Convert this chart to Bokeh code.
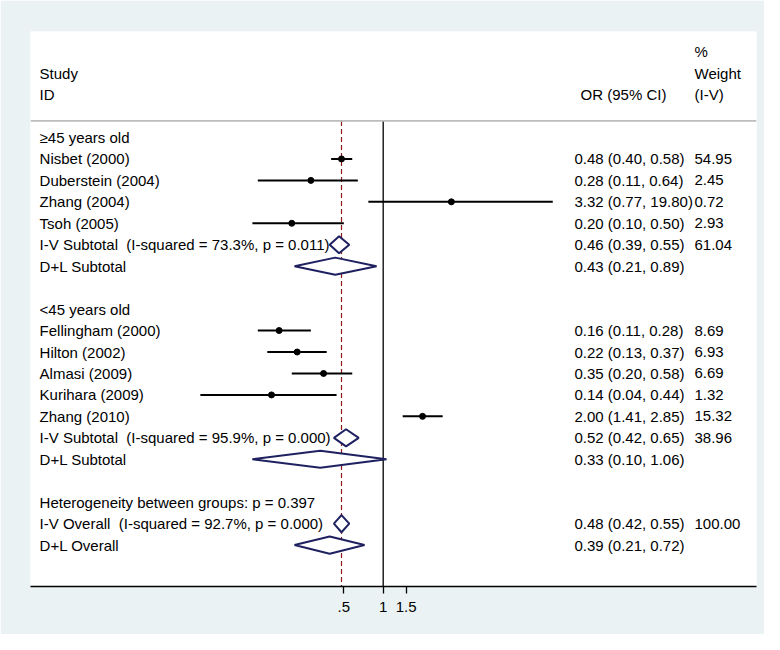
import math
from bokeh.plotting import figure
from bokeh.models import Range1d, FixedTicker, CustomJSTickFormatter, ColumnDataSource, Span
from bokeh.core.properties import value
from bokeh.embed import file_html
from bokeh.resources import INLINE

# ---------------- data ----------------
study_names = ["Nisbet (2000)", "Duberstein (2004)", "Zhang (2004)", "Tsoh (2005)",
               "Fellingham (2000)", "Hilton (2002)", "Almasi (2009)", "Kurihara (2009)", "Zhang (2010)"]
study_or = [0.48, 0.28, 3.32, 0.20, 0.16, 0.22, 0.35, 0.14, 2.00]
study_lo = [0.40, 0.11, 0.77, 0.10, 0.11, 0.13, 0.20, 0.04, 1.41]
study_hi = [0.58, 0.64, 19.80, 0.50, 0.28, 0.37, 0.58, 0.44, 2.85]
study_weight = [54.95, 2.45, 0.72, 2.93, 8.69, 6.93, 6.69, 1.32, 15.32]
study_rows = [1, 2, 3, 4, 9, 10, 11, 12, 13]

pooled_names = ["I-V Subtotal \u00a0(I-squared = 73.3%, p = 0.011)", "D+L Subtotal",
                "I-V Subtotal \u00a0(I-squared = 95.9%, p = 0.000)", "D+L Subtotal",
                "I-V Overall \u00a0(I-squared = 92.7%, p = 0.000)", "D+L Overall"]
pooled_or = [0.46, 0.43, 0.52, 0.33, 0.48, 0.39]
pooled_lo = [0.39, 0.21, 0.42, 0.10, 0.42, 0.21]
pooled_hi = [0.55, 0.89, 0.65, 1.06, 0.55, 0.72]
pooled_weight = [61.04, None, 38.96, None, 100.00, None]
pooled_rows = [5, 6, 14, 15, 18, 19]

group_labels = ["\u226545 years old", "<45 years old", "Heterogeneity between groups: p = 0.397"]
group_rows = [0, 8, 17]

overall_or = 0.48
tick_values = [0.5, 1, 1.5]

# ---------------- layout constants ----------------
X_START, X_END = 0.002011, 714.9
Y_TOP, Y_BOTTOM = -4.94, 20.93
LEFT_X = 0.00236      # study label column
CI_X = 29.0           # OR (95% CI) column
W_X = 240.0           # weight column
HDR_OR_X = 32.3
SEP_Y = -0.77
DIAMOND_H = 0.4

FONT = value("Liberation Sans")
FS = "15px"
BG = "#EAF2F3"
NAVY = "#1E2060"
MAROON = "#8B1A1A"

p = figure(width=764, height=634, x_axis_type="log",
           x_range=Range1d(X_START, X_END), y_range=Range1d(Y_BOTTOM, Y_TOP),
           output_backend="svg", toolbar_location=None, y_axis_location=None,
           min_border_left=30, min_border_right=8, min_border_top=31, min_border_bottom=48)
p.border_fill_color = BG
p.background_fill_color = "white"
p.outline_line_color = None
p.xgrid.visible = False
p.ygrid.visible = False

ax = p.xaxis[0]
ax.ticker = FixedTicker(ticks=tick_values, minor_ticks=[])
ax.formatter = CustomJSTickFormatter(code="return String(tick).replace(/^0\\./, '.');")
ax.axis_line_color = "black"
ax.axis_line_width = 1.3
ax.major_tick_line_color = "black"
ax.major_tick_line_width = 1.3
ax.major_tick_in = 0
ax.major_tick_out = 7
ax.minor_tick_line_color = None
ax.major_label_text_font = "Liberation Sans"
ax.major_label_text_font_size = FS
ax.major_label_text_color = "black"
ax.major_label_standoff = 8

# header separator
p.add_layout(Span(location=SEP_Y, dimension="width", line_color="#BDBDBD", line_width=1.8))

# null line and overall line
p.segment(x0=[1], x1=[1], y0=[SEP_Y], y1=[Y_BOTTOM], line_color="black", line_width=1.3)
p.segment(x0=[overall_or], x1=[overall_or], y0=[SEP_Y], y1=[Y_BOTTOM],
          line_color=MAROON, line_width=1.2, line_dash="5 3")

# study CIs and points
src = ColumnDataSource(dict(y=study_rows, est=study_or, lo=study_lo, hi=study_hi))
p.segment(x0="lo", x1="hi", y0="y", y1="y", source=src, line_color="black", line_width=2)
p.scatter(x="est", y="y", source=src, size=6, color="black")

# pooled diamonds
xs = [[lo, e, hi, e] for lo, e, hi in zip(pooled_lo, pooled_or, pooled_hi)]
ys = [[r, r - DIAMOND_H, r, r + DIAMOND_H] for r in pooled_rows]
p.patches(xs=xs, ys=ys, fill_color="white", line_color=NAVY, line_width=2)

def txt(x, y, t, align="left"):
    p.text(x=x, y=y, text=t, text_font=FONT, text_font_size=FS, text_color="black",
           text_align=align, text_baseline="middle")

# headers
txt([LEFT_X, LEFT_X], [-3, -2], ["Study", "ID"])
txt([HDR_OR_X], [-2], ["OR (95% CI)"])
txt([W_X, W_X, W_X], [-4, -3, -2], ["%", "Weight", "(I-V)"])

# left labels
txt([LEFT_X] * len(group_rows), group_rows, group_labels)
txt([LEFT_X] * len(study_rows), study_rows, study_names)
txt([LEFT_X] * len(pooled_rows), pooled_rows, pooled_names)

# CI text
def fmt(e, l, h):
    return f"{e:.2f} ({l:.2f}, {h:.2f})"

txt([CI_X] * len(study_rows), study_rows, [fmt(e, l, h) for e, l, h in zip(study_or, study_lo, study_hi)])
txt([CI_X] * len(pooled_rows), pooled_rows, [fmt(e, l, h) for e, l, h in zip(pooled_or, pooled_lo, pooled_hi)])

# weights
txt([W_X] * len(study_rows), study_rows, [f"{w:.2f}" for w in study_weight])
pw_rows = [r for r, w in zip(pooled_rows, pooled_weight) if w is not None]
pw_text = [f"{w:.2f}" for w in pooled_weight if w is not None]
txt([W_X] * len(pw_rows), pw_rows, pw_text)

open("out.html", "w").write(file_html(p, INLINE))
